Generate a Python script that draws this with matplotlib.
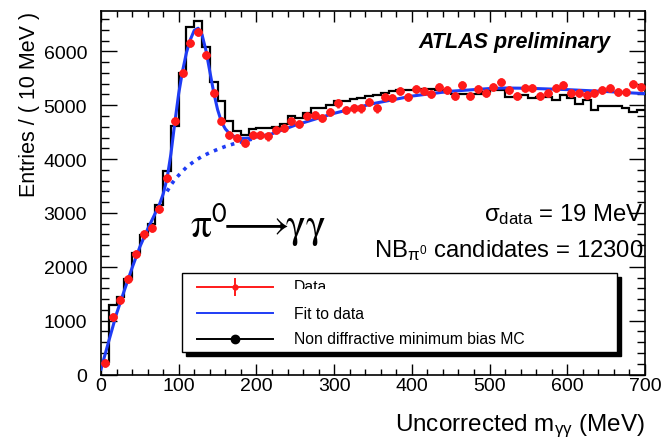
import numpy as np
import matplotlib
matplotlib.use('Agg')
import matplotlib.pyplot as plt
from matplotlib.patches import Rectangle
from matplotlib.lines import Line2D
from matplotlib.ticker import MultipleLocator

plt.rcParams['font.family'] = ['Liberation Sans', 'DejaVu Sans']
plt.rcParams['mathtext.fontset'] = 'custom'
plt.rcParams['mathtext.rm'] = 'Liberation Sans'
plt.rcParams['mathtext.it'] = 'Liberation Sans:italic'
plt.rcParams['mathtext.bf'] = 'Liberation Sans:bold'
plt.rcParams['mathtext.sf'] = 'Liberation Sans'

# diphoton mass spectrum, 10 MeV bins
bin_edges = np.arange(0, 710, 10)
data_x = np.arange(5, 700, 10)
data_y = [220, 1070, 1380, 1780, 2245, 2600, 2720, 3070, 3655, 4715,
          5600, 6155, 6365, 5930, 5225, 4700, 4455, 4390, 4305, 4450,
          4450, 4420, 4535, 4578, 4700, 4655, 4795, 4825, 4768, 4866,
          5033, 4909, 4940, 4940, 5052, 4940, 5158, 5139, 5270, 5158,
          5294, 5270, 5206, 5344, 5281, 5176, 5374, 5176, 5305, 5219,
          5344, 5437, 5281, 5176, 5325, 5325, 5176, 5219, 5325, 5374,
          5219, 5219, 5188, 5232, 5281, 5312, 5238, 5250, 5387, 5344]
data_err = 75

# minimum bias MC, normalised
mc_y = [230, 1284, 1440, 1780, 2260, 2595, 2800, 3140, 3770, 4610,
        5600, 6455, 6565, 6075, 5425, 5080, 4705, 4530, 4450, 4550,
        4570, 4580, 4600, 4660, 4800, 4760, 4850, 4950, 4950, 5000,
        5075, 5075, 5110, 5140, 5170, 5190, 5220, 5260, 5280, 5280,
        5280, 5310, 5300, 5280, 5250, 5210, 5200, 5200, 5200, 5250,
        5280, 5280, 5160, 5160, 5190, 5140, 5160, 5160, 5095, 5190,
        5140, 5030, 5095, 4910, 4980, 4980, 4980, 4940, 4880, 4910]

# fit (signal + background) and background only
fit_x = [0, 10, 20, 30, 40, 50, 60, 70, 75, 80, 85, 90, 95, 100, 105, 110,
         115, 120, 125, 130, 135, 140, 145, 150, 155, 160, 165, 170, 175,
         180, 185, 190, 200, 220, 250, 300, 350, 400, 450, 500, 520, 550,
         600, 650, 700]
fit_y = [100, 620, 1130, 1560, 1980, 2370, 2700, 3000, 3150, 3350, 3640,
         4100, 4680, 5220, 5640, 5980, 6220, 6390, 6430, 6310, 6020, 5630,
         5240, 4920, 4690, 4560, 4480, 4430, 4400, 4385, 4385, 4390, 4410,
         4470, 4630, 4850, 5030, 5170, 5260, 5310, 5320, 5315, 5290, 5255,
         5215]
bkg_x = [85, 90, 95, 100, 110, 120, 130, 140, 150, 160, 170, 180, 190, 200]
bkg_y = [3400, 3520, 3620, 3700, 3850, 3960, 4050, 4120, 4180, 4235, 4280,
         4320, 4355, 4390]

red = '#ff1a1a'
blue = '#1f3cf5'

fig = plt.figure(figsize=(6.62, 4.39), dpi=100)
ax = fig.add_axes([101/662, 1-375.5/439, 544/662, 363.5/439])

ax.stairs(mc_y, bin_edges, color='black', lw=1.6, baseline=None, zorder=2)
ax.plot(bkg_x, bkg_y, color=blue, lw=2.6, ls=(0, (1, 1.5)), zorder=3)
ax.plot(fit_x, fit_y, color=blue, lw=2.2, zorder=3)
ax.errorbar(data_x, data_y, xerr=5, yerr=data_err, fmt='o', color=red,
            ms=5.2, elinewidth=1.8, capsize=0, zorder=4)

ax.set_xlim(0, 700)
ax.set_ylim(0, 6750)
ax.xaxis.set_major_locator(MultipleLocator(100))
ax.xaxis.set_minor_locator(MultipleLocator(20))
ax.yaxis.set_major_locator(MultipleLocator(1000))
ax.yaxis.set_minor_locator(MultipleLocator(200))
ax.tick_params(which='both', direction='in', top=True, right=True,
               labelsize=14, width=1)
ax.tick_params(axis='x', which='major', length=8, pad=2)
ax.tick_params(axis='x', which='minor', length=4)
ax.tick_params(axis='y', which='major', length=11.5, pad=10)
ax.tick_params(axis='y', which='minor', length=5.8)
for s in ax.spines.values():
    s.set_linewidth(1.2)

ax.set_ylabel('Entries / ( 10 MeV )', fontsize=15.5, loc='top')
ax.yaxis.set_label_coords(-0.112, 1.0)
ax.set_xlabel(r'Uncorrected m$_{\mathrm{\gamma\gamma}}$ (MeV)', fontsize=17.5,
              loc='right')
ax.xaxis.set_label_coords(1.0, -0.102)

ax.text(0.936, 0.915, 'ATLAS preliminary', transform=ax.transAxes,
        ha='right', va='center', fontsize=15.5, fontweight='bold', style='italic')
ax.text(0.164, 0.414, r'$\mathrm{\pi}^{\mathsf{0}}\!\!\longrightarrow\!\!\mathrm{\gamma\gamma}$',
        transform=ax.transAxes, ha='left', va='center', fontsize=30,
        math_fontfamily='stix')
ax.text(0.998, 0.4415, r'$\mathrm{\sigma}_{\mathrm{data}}$ = 19 MeV',
        transform=ax.transAxes, ha='right', va='center', fontsize=17.2)
ax.text(0.998, 0.345, r'NB$_{\mathrm{\pi}^{0}}$ candidates = 12300',
        transform=ax.transAxes, ha='right', va='center', fontsize=17.2)

# legend box with drop shadow
bx0, bx1, by0, by1 = 0.149, 0.9485, 0.062, 0.279
ax.add_patch(Rectangle((bx0 + 0.008, by0 - 0.012), bx1 - bx0, by1 - by0,
                       transform=ax.transAxes, facecolor='black',
                       edgecolor='black', zorder=5))
ax.add_patch(Rectangle((bx0, by0), bx1 - bx0, by1 - by0,
                       transform=ax.transAxes, facecolor='white',
                       edgecolor='black', lw=1, zorder=6))
lx0, lx1, lxm, tx = 0.1765, 0.3162, 0.2472, 0.3548
rows = [0.2415, 0.1684, 0.0977]
ax.add_line(Line2D([lx0, lx1], [rows[0]] * 2, color=red, lw=1.4,
                   transform=ax.transAxes, zorder=7))
ax.add_line(Line2D([lxm, lxm], [rows[0] - 0.022, rows[0] + 0.022], color=red,
                   lw=1.4, transform=ax.transAxes, zorder=7))
ax.add_line(Line2D([lxm], [rows[0]], marker='o', ms=3.5, color=red,
                   transform=ax.transAxes, zorder=7))
ax.add_line(Line2D([lx0, lx1], [rows[1]] * 2, color=blue, lw=1.4,
                   transform=ax.transAxes, zorder=7))
ax.add_line(Line2D([lx0, lx1], [rows[2]] * 2, color='black', lw=1.4,
                   transform=ax.transAxes, zorder=7))
ax.add_line(Line2D([lxm], [rows[2]], marker='o', ms=6, color='black',
                   transform=ax.transAxes, zorder=7))

ax.text(tx, rows[0], 'Data', transform=ax.transAxes, ha='left',
        va='center', fontsize=11.3, zorder=7)
# lower part of the "Data" label is hidden behind the entry cell
ax.add_patch(Rectangle((tx - 0.005, rows[0] - 0.030), 0.12, 0.024,
                       transform=ax.transAxes, facecolor='white',
                       edgecolor='none', zorder=8))
ax.text(tx, rows[1], 'Fit to data', transform=ax.transAxes, ha='left',
        va='center', fontsize=11.3, zorder=7)
ax.text(tx, rows[2], 'Non diffractive minimum bias MC', transform=ax.transAxes,
        ha='left', va='center', fontsize=11.3, zorder=7)

fig.savefig('out.png', dpi=100)
